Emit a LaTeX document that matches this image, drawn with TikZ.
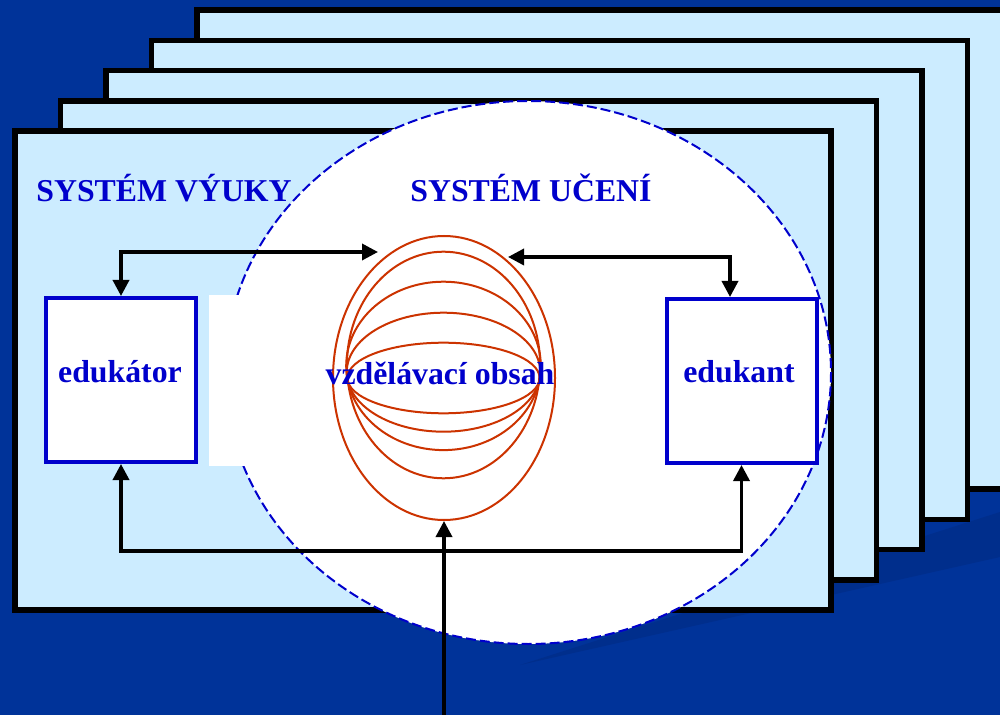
\documentclass[tikz,border=0pt]{standalone}
\usepackage{fontspec}
\setmainfont{Liberation Serif}
\usetikzlibrary{shapes.geometric,arrows.meta}
\definecolor{bgblue}{HTML}{003399}
\definecolor{bandblue}{HTML}{002E8C}
\definecolor{paleblue}{HTML}{CCECFF}
\definecolor{txtblue}{HTML}{0000CC}
\definecolor{layerred}{HTML}{CC3300}
\tikzset{
  frame/.style={draw=black, fill=paleblue, line width=2.75pt},
  member/.style={draw=txtblue, fill=white, line width=2pt, minimum width=75pt, minimum height=82pt, inner sep=0pt},
  caption/.style={text=txtblue, font=\fontsize{15.9}{19}\selectfont\bfseries, inner sep=0pt},
  layer/.style={draw=layerred, line width=1pt},
  link/.style={line width=1.75pt, {Triangle[length=8pt,width=8pt]}-{Triangle[length=8pt,width=8pt]}}
}
\begin{document}
\begin{tikzpicture}[x=0.5pt,y=-0.5pt]
\useasboundingbox (0,0) rectangle (1000,715);
\fill[bgblue] (0,0) rectangle (1000,715);
\fill[bandblue] (1000,512) -- (1000,557) -- (520,665) -- cycle;
% stacked frames
\foreach \i in {4,...,0}
  \draw[frame] ({15+45.5*\i},{131-30.2*\i}) rectangle ++(816,479);
% learning system
\draw[txtblue, line width=1pt, dash pattern=on 5pt off 2pt, fill=white] (528,372.5) ellipse [x radius=303, y radius=271.5];
\fill[white] (209,295) rectangle (600,466);
% content
\node[layer, ellipse, minimum width=111pt, minimum height=142pt, inner sep=0pt] (obsah) at (444,378) {};
\foreach \cy/\rx/\ry in {365/96.6/113.3, 365.9/97.3/84.2, 372.2/96.8/59.5, 378/96.1/35.3}
  \draw[layer] (443.5,\cy) ellipse [x radius=\rx, y radius=\ry];
\node[caption, anchor=base west] (vyuka) at (36,202) {SYSTÉM VÝUKY};
\node[caption, anchor=base west] (uceni) at (410,202) {SYSTÉM UČENÍ};
\node[caption, anchor=base] (obsahtext) at (440,385) {vzdělávací obsah};
% members
\node[member] (edukator) at (121,380) {};
\node[member] (edukant) at (741.5,381) {};
\node[caption, anchor=base] (edukatortext) at (120,383) {edukátor};
\node[caption, anchor=base] (edukanttext) at (739,383) {edukant};
% links
\coordinate (inL) at (378,252);
\coordinate (inR) at (508,257);
\coordinate (src) at (444,715);
\draw[link] (edukator.north) |- (inL);
\draw[link] (inR) -| ([xshift=-5.75pt]edukant.north);
\draw[link] (edukator.south) -- ++(0,87) -| (edukant.south);
\draw[line width=1.75pt, -{Triangle[length=8pt,width=8pt]}] (src) -- (obsah.south);
\end{tikzpicture}
\end{document}
